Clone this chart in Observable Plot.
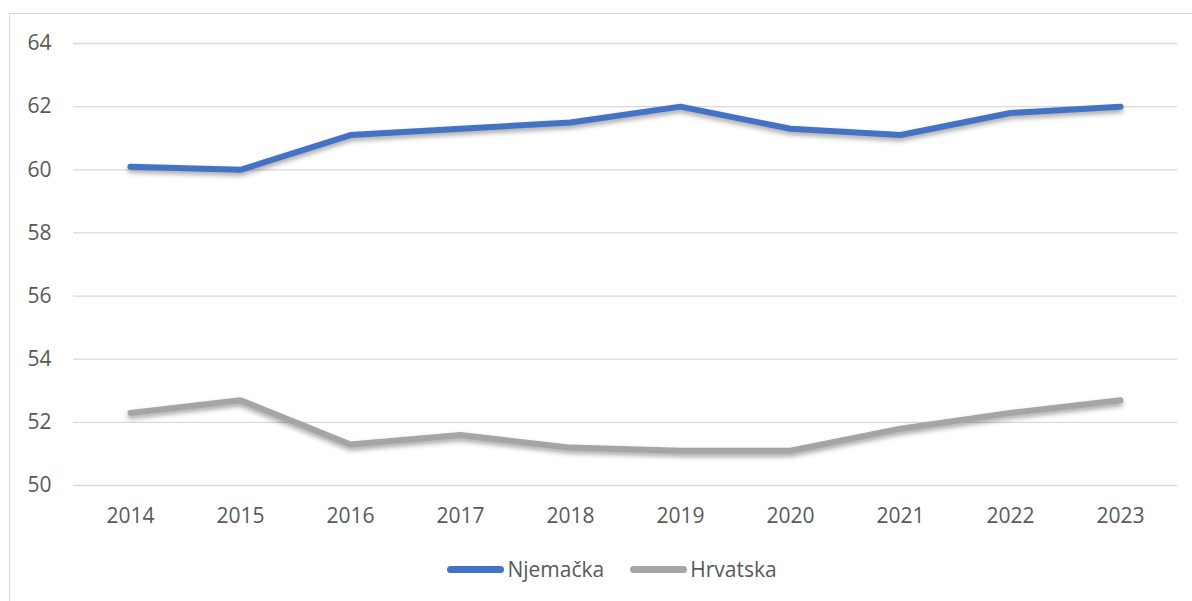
<!DOCTYPE html>
<html>
<head>
<meta charset="utf-8">
<script src="https://cdn.jsdelivr.net/npm/d3@7"></script>
<script src="https://cdn.jsdelivr.net/npm/@observablehq/plot@0.6"></script>
<style>
  html, body { margin: 0; padding: 0; background: #fff; overflow: hidden; }
  #wrap { position: relative; width: 1192px; height: 601px; font-family: "Open Sans", sans-serif; }
  #frame { position: absolute; left: 9px; top: 13px; width: 1300px; height: 700px; border: 1px solid #d9d9d9; box-sizing: border-box; }
  #chart { position: absolute; left: 0; top: 0; }
  #chart svg { overflow: visible; }
  .lines g[aria-label="line"] path { filter: drop-shadow(0px 3px 2.5px rgba(0,0,0,0.35)); }
  #legend { position: absolute; top: 555px; left: 0; width: 1192px; display: flex; justify-content: center; align-items: center; font-size: 21px; color: #595959; padding-left: 32px; box-sizing: border-box; }
  .item { display: flex; align-items: center; margin: 0 13px; }
  .sw { width: 57px; height: 7px; border-radius: 4px; margin-right: 3px; }
</style>
</head>
<body>
<div id="wrap">
  <div id="frame"></div>
  <div id="chart"></div>
  <div id="legend"></div>
</div>
<script>
const years = ["2014","2015","2016","2017","2018","2019","2020","2021","2022","2023"];
const seriesNames = ["Njemačka", "Hrvatska"];
const njemacka = [60.1, 60.0, 61.1, 61.3, 61.5, 62.0, 61.3, 61.1, 61.8, 62.0];
const hrvatska = [52.3, 52.7, 51.3, 51.6, 51.2, 51.1, 51.1, 51.8, 52.3, 52.7];
const yTicks = [50, 52, 54, 56, 58, 60, 62, 64];
const colors = ["#4472C4", "#A5A5A5"];

const data = [];
years.forEach((y, i) => {
  data.push({year: y, series: seriesNames[0], value: njemacka[i]});
  data.push({year: y, series: seriesNames[1], value: hrvatska[i]});
});

const chart = Plot.plot({
  width: 1192,
  height: 540,
  marginLeft: 73,
  marginRight: 15,
  marginTop: 43,
  marginBottom: 55,
  className: "lines",
  style: { fontFamily: "'Open Sans', sans-serif", fontSize: "21px", color: "#595959", background: "transparent" },
  x: { type: "point", domain: years, padding: 0.5, label: null },
  y: { domain: [50, 64], ticks: yTicks, label: null },
  color: { domain: seriesNames, range: colors },
  marks: [
    Plot.gridY(yTicks, { stroke: "#d9d9d9", strokeOpacity: 1, strokeWidth: 1.3 }),
    Plot.axisY(yTicks, { tickSize: 0, tickPadding: 22, fill: "#595959", fontSize: 21, label: null }),
    Plot.axisX({ tickSize: 0, tickPadding: 23, fill: "#595959", fontSize: 21, label: null }),
    Plot.line(data, { x: "year", y: "value", z: "series", stroke: "series", strokeWidth: 6, strokeLinecap: "round", strokeLinejoin: "round" })
  ]
});
document.getElementById("chart").appendChild(chart);

const legend = document.getElementById("legend");
seriesNames.forEach((name, i) => {
  const item = document.createElement("div");
  item.className = "item";
  const sw = document.createElement("div");
  sw.className = "sw";
  sw.style.background = colors[i];
  const t = document.createElement("span");
  t.textContent = name;
  item.appendChild(sw);
  item.appendChild(t);
  legend.appendChild(item);
});
</script>
</body>
</html>
